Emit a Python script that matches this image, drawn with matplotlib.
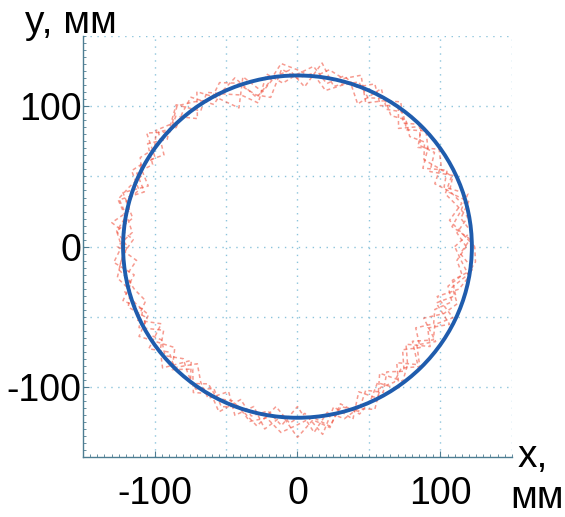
import numpy as np
import matplotlib
matplotlib.use("Agg")
import matplotlib.pyplot as plt
from matplotlib.patches import Circle
from matplotlib.ticker import MultipleLocator

plt.rcParams['font.family'] = ['Liberation Sans', 'DejaVu Sans']
plt.rcParams['axes.unicode_minus'] = False

# reference trajectory: circle of radius R, mm
R = 122.0

# measured trajectory, four passes, radius (mm) every 5 degrees
angles = np.arange(0, 360, 5)
pass_a = [118, 112, 121, 115, 110, 119, 113, 108, 116, 111,
          118, 114, 122, 117, 125, 119, 113, 124, 120, 127,
          108, 112, 124, 129, 121, 126, 131, 124, 129, 122,
          127, 120, 125, 130, 122, 127, 119, 124, 128, 121,
          126, 118, 123, 116, 121, 113, 119, 124, 117, 126,
          121, 129, 124, 133, 127, 122, 130, 118, 125, 113,
          120, 109, 116, 104, 112, 101, 110, 106, 115, 109,
          117, 112]
pass_b = [110, 122, 116, 124, 113, 120, 107, 117, 112, 121,
          110, 123, 116, 128, 121, 126, 118, 129, 123, 117,
          125, 106, 115, 120, 127, 118, 132, 125, 119, 128,
          117, 124, 114, 129, 121, 116, 126, 113, 122, 118,
          113, 124, 110, 127, 117, 122, 109, 118, 125, 114,
          128, 118, 132, 121, 136, 124, 131, 116, 127, 121,
          112, 124, 108, 119, 105, 116, 111, 120, 104, 117,
          122, 115]
pass_c = [124, 115, 108, 119, 114, 106, 116, 121, 110, 123,
          115, 126, 120, 113, 130, 124, 128, 121, 126, 131,
          118, 110, 128, 123, 117, 130, 125, 120, 127, 114,
          122, 128, 118, 124, 117, 127, 123, 129, 116, 125,
          120, 115, 128, 119, 112, 124, 114, 127, 121, 130,
          116, 125, 119, 128, 114, 133, 120, 127, 123, 128,
          116, 118, 113, 121, 109, 118, 102, 113, 119, 112,
          120, 125]
# fourth pass sampled half a step later
angles_d = angles + 2.5
pass_d = [121, 109, 117, 125, 111, 118, 104, 115, 122, 113,
          121, 116, 127, 110, 123, 117, 132, 114, 126, 122,
          113, 127, 107, 119, 131, 115, 126, 121, 133, 118,
          124, 113, 128, 120, 131, 115, 122, 126, 119, 128,
          117, 125, 111, 121, 128, 110, 123, 116, 122, 119,
          124, 131, 115, 126, 119, 135, 117, 129, 112, 122,
          107, 121, 114, 103, 117, 108, 120, 105, 116, 111,
          124, 114]

ticks = [-100, 0, 100]

fig = plt.figure(figsize=(5.65, 5.17), dpi=100)
ax = fig.add_axes([0.147, 0.116, 0.759, 0.814])

spine_col = '#4d7d92'
grid_col = '#8cc4dc'

for ang, r in ((angles, pass_a), (angles, pass_b), (angles, pass_c), (angles_d, pass_d)):
    th = np.deg2rad(np.append(ang, ang[0] + 360))
    r = np.append(r, r[0])
    ax.plot(r * np.cos(th), r * np.sin(th), color='#f04a36', lw=1.1,
            alpha=0.55, linestyle=(0, (2.5, 2)), zorder=2)

ax.add_patch(Circle((0, 0), R, fill=False, edgecolor='#1f5cad', lw=2.8, zorder=3))

ax.set_xlim(-150, 150)
ax.set_ylim(-150, 150)

for v in (-100, -50, 0, 50, 100, 150):
    ax.axvline(v, color=grid_col, lw=1.0, linestyle=(0, (1, 4)), zorder=1)
    ax.axhline(v, color=grid_col, lw=1.0, linestyle=(0, (1, 4)), zorder=1)

ax.spines['top'].set_visible(False)
ax.spines['right'].set_visible(False)
for s in ('left', 'bottom'):
    ax.spines[s].set_color(spine_col)
    ax.spines[s].set_linewidth(1.0)

ax.set_xticks(ticks)
ax.set_yticks(ticks)
ax.xaxis.set_minor_locator(MultipleLocator(5))
ax.yaxis.set_minor_locator(MultipleLocator(5))
ax.tick_params(which='major', direction='in', length=4, color=spine_col,
               labelsize=27, pad=14)
ax.tick_params(axis='y', which='major', pad=1)
ax.tick_params(which='minor', direction='in', length=2, color=spine_col)

fig.text(25 / 565, 1 - 33 / 517, 'y, мм', fontsize=28, ha='left', va='baseline')
fig.text(518 / 565, 1 - 467 / 517, 'x,', fontsize=28, ha='left', va='baseline')
fig.text(510 / 565, 1 - 508 / 517, 'мм', fontsize=28, ha='left', va='baseline')

fig.savefig('out.png', dpi=100)
